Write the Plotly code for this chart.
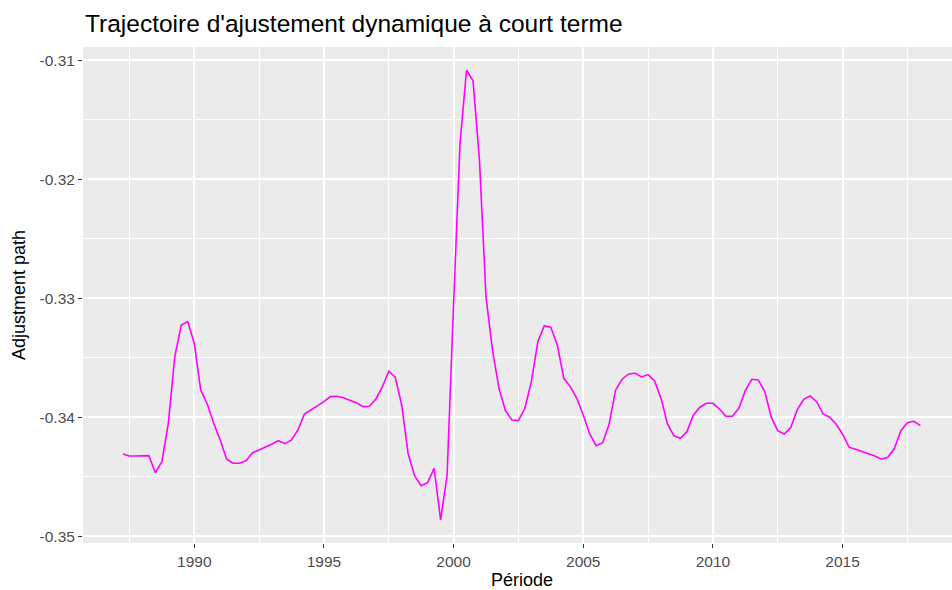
import numpy as np
import plotly.graph_objects as go

# Quarterly periods 1987Q2 .. 2018Q1 (decimal years)
start_year = 1987.25
adjustment_path = [
    -0.34307, -0.34324, -0.34324, -0.34324, -0.34321, -0.34464, -0.34374, -0.34049,
    -0.33489, -0.33223, -0.33195, -0.33376, -0.33769, -0.33887, -0.34049, -0.34189,
    -0.34351, -0.34385, -0.34385, -0.34363, -0.34296, -0.34273, -0.34251, -0.34223,
    -0.34195, -0.34220, -0.34189, -0.34105, -0.33971, -0.33937, -0.33903, -0.33867,
    -0.33825, -0.33822, -0.33834, -0.33853, -0.33876, -0.33909, -0.33906, -0.33847,
    -0.33746, -0.33612, -0.33662, -0.33895, -0.34307, -0.34492, -0.34573, -0.34548,
    -0.34427, -0.34861, -0.34488, -0.33050, -0.31691, -0.31082, -0.31170, -0.31844,
    -0.32985, -0.33433, -0.33755, -0.33943, -0.34021, -0.34027, -0.33923, -0.33699,
    -0.33363, -0.33229, -0.33242, -0.33391, -0.33671, -0.33741, -0.33839, -0.33979,
    -0.34139, -0.34237, -0.34212, -0.34055, -0.33769, -0.33679, -0.33634, -0.33629,
    -0.33660, -0.33640, -0.33693, -0.33839, -0.34057, -0.34155, -0.34175, -0.34119,
    -0.33979, -0.33914, -0.33881, -0.33881, -0.33929, -0.33990, -0.33990, -0.33923,
    -0.33775, -0.33679, -0.33685, -0.33783, -0.33998, -0.34111, -0.34139, -0.34086,
    -0.33937, -0.33847, -0.33819, -0.33867, -0.33971, -0.33998, -0.34055, -0.34141,
    -0.34250, -0.34267, -0.34287, -0.34307, -0.34324, -0.34351, -0.34334, -0.34259,
    -0.34111, -0.34044, -0.34032, -0.34069,
]
periods = [start_year + 0.25 * i for i in range(len(adjustment_path))]

x_ticks = [1990, 1995, 2000, 2005, 2010, 2015]
y_ticks = [-0.35, -0.34, -0.33, -0.32, -0.31]
y_tick_labels = ["-0.35", "-0.34", "-0.33", "-0.32", "-0.31"]

title_text = "Trajectoire d'ajustement dynamique à court terme"
x_title = "Période"
y_title = "Adjustment path"

FONT = "Liberation Sans, Arial, sans-serif"

fig = go.Figure()
fig.add_trace(go.Scatter(
    x=periods, y=adjustment_path, mode="lines",
    line=dict(color="#FF00FF", width=1.6),
    hoverinfo="skip", showlegend=False,
))

fig.update_layout(
    width=952, height=590,
    margin=dict(l=83, r=0, t=47, b=47),
    paper_bgcolor="white",
    plot_bgcolor="#EBEBEB",
    font=dict(family=FONT, color="#4D4D4D"),
    showlegend=False,
)

fig.update_xaxes(
    range=[1985.71, 2019.22],
    tickmode="array", tickvals=x_ticks, ticktext=[str(v) for v in x_ticks],
    ticks="outside", ticklen=4, tickwidth=1.2, tickcolor="#333333",
    tickfont=dict(size=15.5, color="#4D4D4D", family=FONT),
    showgrid=True, gridcolor="white", gridwidth=1.6,
    minor=dict(tickmode="array", tickvals=[1987.5 + 5 * k for k in range(7)],
               showgrid=True, gridcolor="white", gridwidth=0.8, ticks=""),
    zeroline=False, showline=False, automargin=False,
)
fig.update_yaxes(
    range=[-0.35055, -0.30887],
    tickmode="array", tickvals=y_ticks, ticktext=y_tick_labels,
    ticks="outside", ticklen=4, tickwidth=1.2, tickcolor="#333333",
    tickfont=dict(size=15.5, color="#4D4D4D", family=FONT),
    showgrid=True, gridcolor="white", gridwidth=1.6,
    minor=dict(tickmode="array", tickvals=[-0.345, -0.335, -0.325, -0.315],
               showgrid=True, gridcolor="white", gridwidth=0.8, ticks=""),
    zeroline=False, showline=False, automargin=False,
)

fig.add_annotation(
    text=title_text, xref="paper", yref="paper", x=0, y=1,
    xanchor="left", yanchor="bottom", yshift=8, showarrow=False,
    font=dict(size=24.5, color="black", family=FONT),
)
fig.add_annotation(
    text=x_title, xref="paper", yref="paper",
    x=(521.5 - 83) / (952 - 83), y=0, xanchor="center", yanchor="top",
    yshift=-25, showarrow=False,
    font=dict(size=18, color="black", family=FONT),
)
fig.add_annotation(
    text=y_title, xref="paper", yref="paper", x=0, y=0.5,
    xanchor="right", yanchor="middle", xshift=-52, textangle=-90, showarrow=False,
    font=dict(size=18, color="black", family=FONT),
)

fig.write_html("out.html", config={"displayModeBar": False},
               post_script="document.body.style.margin='0';")
